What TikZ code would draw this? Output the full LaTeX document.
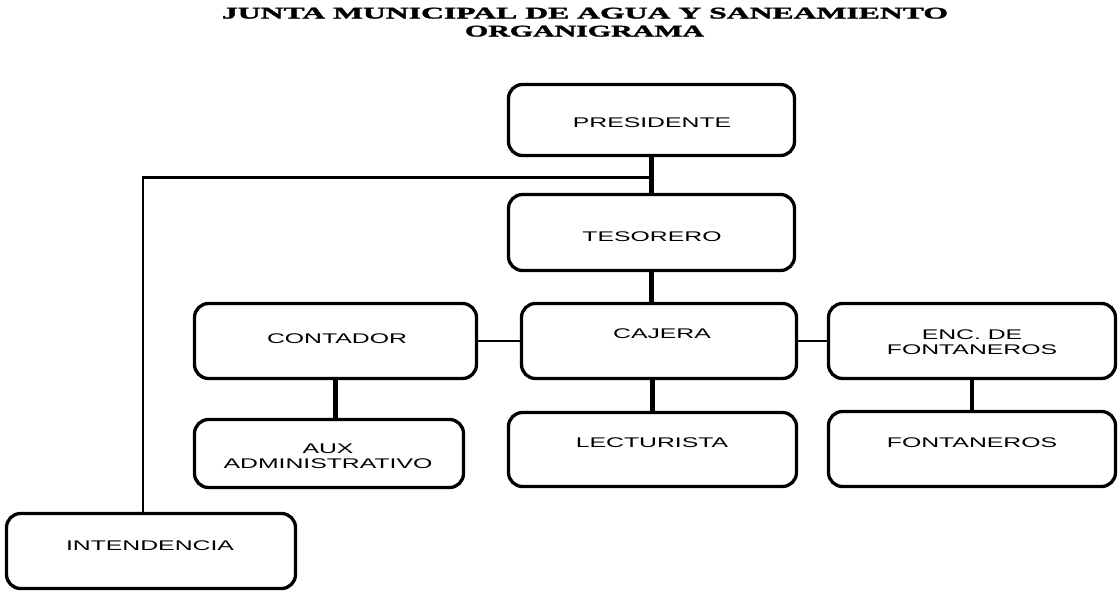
\documentclass[tikz,border=0pt]{standalone}
\usepackage{fontspec}
\setmainfont{Liberation Sans}
\newfontfamily\titleserif[FakeBold=1.5]{Liberation Serif Bold}
\usetikzlibrary{calc}
\newcommand{\wtxt}[1]{\scalebox{1.77}[1]{\begin{tabular}[t]{@{}c@{}}#1\end{tabular}}}
\begin{document}
\begin{tikzpicture}[x=1pt,y=-1pt,
  box/.style 2 args={draw, line width=3.3pt, rounded corners=14pt, inner sep=0pt,
    minimum width=#1pt, minimum height=#2pt},
  lbl/.style={anchor=base, inner sep=0pt, font=\fontsize{14}{15}\selectfont},
  ttl/.style={anchor=base, inner sep=0pt},
  vlink/.style={line width=4.5pt},
  hlink/.style={line width=2.6pt}]
\useasboundingbox (0,0) rectangle (1120,592);

% title
\node[ttl] (title1) at (585,18.5) {\resizebox{726pt}{10.8pt}{\titleserif JUNTA MUNICIPAL DE AGUA Y SANEAMIENTO}};
\node[ttl] (title2) at (584.5,36.5) {\resizebox{239pt}{10.8pt}{\titleserif ORGANIGRAMA}};

% boxes
\node[box={286}{71}] (pres) at (651.5,120) {};
\node[box={286}{76}] (tes)  at (651.5,232.5) {};
\node[box={275}{75}] (caj)  at (659,341) {};
\node[box={288}{74}] (lect) at (652.5,449.5) {};
\node[box={282}{75}] (cont) at (335.5,341) {};
\node[box={269}{68}] (aux)  at (329,453.5) {};
\node[box={287}{75}] (enc)  at (972,341) {};
\node[box={287}{75}] (font) at (972,449) {};
\node[box={289}{75}] (int)  at (151,551) {};

% labels
\node[lbl] (tpres) at (652,127) {\wtxt{PRESIDENTE}};
\node[lbl] (ttes)  at (652,241) {\wtxt{TESORERO}};
\node[lbl] (tcaj)  at (662,338) {\wtxt{CAJERA}};
\node[lbl] (tlect) at (652,447) {\wtxt{LECTURISTA}};
\node[lbl] (tcont) at (337,343) {\wtxt{CONTADOR}};
\node[lbl] (taux)  at (328,453) {\wtxt{AUX\\ADMINISTRATIVO}};
\node[lbl] (tenc)  at (972,339) {\wtxt{ENC. DE\\FONTANEROS}};
\node[lbl] (tfont) at (972,447) {\wtxt{FONTANEROS}};
\node[lbl] (tint)  at (150,550) {\wtxt{INTENDENCIA}};

% connectors
\draw[vlink] (pres.south) -- (tes.north);
\coordinate (jn) at ($(pres.south)!0.57!(tes.north)$);
\coordinate (inttop) at ($(int.north)+(-8,0)$);
\draw[hlink] (jn) -| (inttop);
\draw[vlink] (tes.south) -- (tes.south |- caj.north);
\draw[vlink] (caj.south -| lect.north) -- (lect.north);
\draw[vlink] (cont.south) -- (cont.south |- aux.north);
\draw[vlink] (enc.south) -- (font.north);
\draw[hlink] (cont.east) -- (caj.west);
\draw[hlink] (caj.east) -- (enc.west);
\end{tikzpicture}
\end{document}
